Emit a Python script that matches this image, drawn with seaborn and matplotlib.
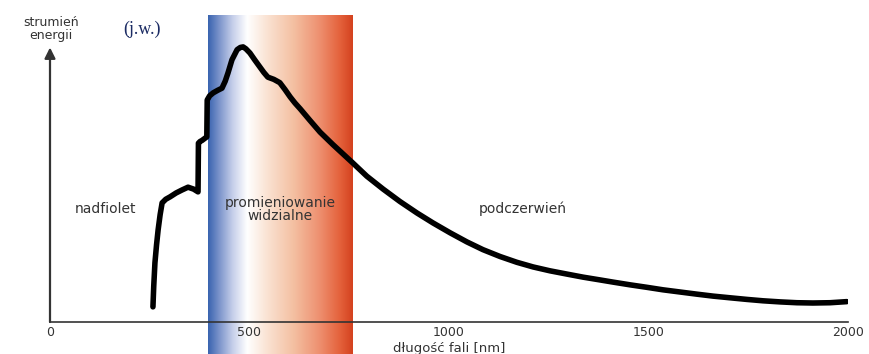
import numpy as np
import pandas as pd
import seaborn as sns
import matplotlib
matplotlib.use('Agg')
import matplotlib.pyplot as plt
from matplotlib.colors import LinearSegmentedColormap
from matplotlib.ticker import MultipleLocator

# widmo, y w jednostkach wzglednych
wavelength = [258, 260, 263, 267, 271, 276, 281, 290, 301, 316, 331, 346, 360, 371,
              372, 376, 381, 393, 394, 400, 409, 420, 431, 439, 446, 456, 469, 477,
              484, 491, 501, 513, 526, 536, 546, 561, 576, 589, 602, 614, 627, 652,
              677, 709, 759, 794, 835, 877, 920, 960, 1003, 1045, 1085, 1128, 1170,
              1211, 1253, 1296, 1336, 1378, 1411, 1454, 1496, 1536, 1579, 1622, 1662,
              1704, 1747, 1787, 1830, 1872, 1912, 1955, 1997]
flux = [5.5, 13.0, 21.5, 28.0, 33.5, 39.0, 43.3, 44.6, 45.5, 46.9, 48.0, 49.0, 48.3, 47.3,
        65.0, 65.6, 66.0, 67.3, 80.7, 82.2, 83.3, 84.2, 85.0, 87.5, 90.5, 95.3, 99.0, 99.8,
        100.0, 99.3, 97.8, 95.3, 92.7, 90.7, 89.0, 88.2, 87.0, 84.5, 81.8, 79.6, 77.5, 73.2,
        69.0, 64.5, 57.8, 53.0, 48.3, 43.8, 39.6, 36.0, 32.4, 29.1, 26.3, 23.8, 21.7,
        20.0, 18.6, 17.4, 16.3, 15.3, 14.5, 13.5, 12.6, 11.7, 10.9, 10.1, 9.4,
        8.8, 8.2, 7.7, 7.3, 7.0, 6.9, 7.0, 7.4]

visible_band = (397, 760)
band_colors = ['#3a64b0', '#7e96cc', '#c6cfea', '#ffffff', '#fae2d2',
               '#f4c0a2', '#ee9070', '#e4623c', '#d4421f']
band_stops = [0.0, 0.08, 0.17, 0.27, 0.41, 0.59, 0.77, 0.91, 1.0]

x_ticks = [0, 500, 1000, 1500, 2000]
region_labels = [(140, 41.1, 'nadfiolet'), (576, 43.3, 'promieniowanie'),
                 (576, 38.5, 'widzialne'), (1185, 41.1, 'podczerwień')]

df = pd.DataFrame({'nm': wavelength, 'flux': flux})

sns.set_style('white')
plt.rcParams['font.family'] = ['DejaVu Sans']

fig = plt.figure(figsize=(8.7, 3.54), dpi=100)
ax = fig.add_axes([50 / 870, 0, 798 / 870, 339 / 354])
ymin, ymax = -11.64, 111.6

cmap = LinearSegmentedColormap.from_list('vis', list(zip(band_stops, band_colors)))
grad = np.linspace(0, 1, 256).reshape(1, -1)
ax.imshow(grad, extent=[visible_band[0], visible_band[1], ymin, ymax],
          aspect='auto', cmap=cmap, zorder=0)

sns.lineplot(data=df, x='nm', y='flux', ax=ax, color='black', lw=4.0,
             sort=False, estimator=None, zorder=3)
ax.lines[-1].set_solid_joinstyle('round')
ax.lines[-1].set_solid_capstyle('round')

ax.set_xlim(0, 2000)
ax.set_ylim(ymin, ymax)

for s in ['left', 'right', 'top']:
    ax.spines[s].set_visible(False)
ax.spines['bottom'].set_position(('data', 0))
ax.spines['bottom'].set_color('#333333')
ax.spines['bottom'].set_linewidth(1.2)

ax.set_xticks(x_ticks)
ax.xaxis.set_minor_locator(MultipleLocator(100))
ax.tick_params(axis='x', which='major', direction='in', length=5, width=1.3,
               color='#333333', labelsize=9, labelcolor='#333333', pad=3)
ax.tick_params(axis='x', which='minor', direction='in', length=3, width=1.2,
               color='#333333')
ax.set_yticks([])
ax.set_xlabel('')
ax.set_ylabel('')

# os y ze strzalka
ax.annotate('', xy=(0, 99.8), xytext=(0, 0),
            arrowprops=dict(arrowstyle='-|>', color='#333333', lw=1.6,
                            mutation_scale=16, shrinkA=0, shrinkB=0),
            annotation_clip=False)

for x, y, t in region_labels:
    ax.text(x, y, t, ha='center', va='center', fontsize=10, color='#333333')

ax.text(1000, -9.8, 'długość fali [nm]', ha='center', va='center',
        fontsize=9.5, color='#333333')

fig.text(51 / 870, 1 - 22 / 354, 'strumień', ha='center', va='center',
         fontsize=9, color='#333333')
fig.text(51 / 870, 1 - 35 / 354, 'energii', ha='center', va='center',
         fontsize=9, color='#333333')
fig.text(142 / 870, 1 - 29 / 354, '(j.w.)', ha='center', va='center',
         fontsize=13, color='#1c2c64', family=['Liberation Serif'])

fig.savefig('out.png', dpi=100)
